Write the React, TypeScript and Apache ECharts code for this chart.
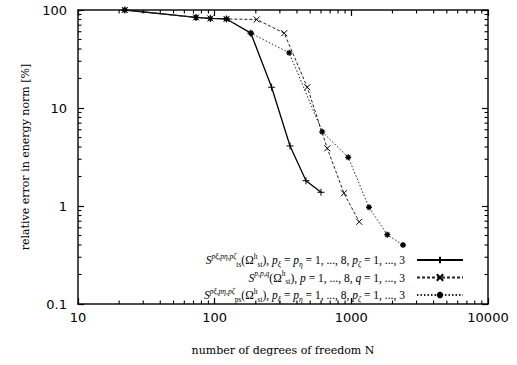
import React, { useEffect, useRef } from "react";
import * as echarts from "echarts";

// ---- data ----
const N_TS = [22, 73, 93, 122, 184, 261, 356, 466, 600];
const E_TS = [100, 84, 82, 81, 58, 16.3, 4.1, 1.81, 1.38];
const N_ST = [22, 73, 93, 122, 203, 323, 476, 667, 883, 1143];
const E_ST = [100, 84, 82, 81, 80, 58, 16.3, 3.88, 1.35, 0.69];
const N_PS = [22, 73, 93, 122, 184, 351, 612, 949, 1346, 1832, 2388];
const E_PS = [100, 84, 82, 81, 58, 36.6, 5.72, 3.14, 0.97, 0.51, 0.4];

const X_MIN = 10;
const X_MAX = 10000;
const Y_MIN = 0.1;
const Y_MAX = 100;
const X_DECADES = [10, 100, 1000];
const Y_DECADES = [0.1, 1, 10];
const MINOR_MULT = [2, 3, 4, 5, 6, 7, 8, 9];

const X_TITLE = "number of degrees of freedom N";
const Y_TITLE = "relative error in energy norm [%]";
const SERIES_NAMES = ["S_ts", "S_st", "S_ps"];

const SERIF = "DejaVu Serif";
const LSERIF = "Liberation Serif";
const SANS = "DejaVu Sans";

const LEGEND_TEXT: Record<string, string> = {
  S_ts:
    "{i|S}{sp|pξ,pη,pζ}{sbr|ts}{n|(Ω}{spr|h}{sbr|st}{n|), }{i|p}{sb|ξ}{n| = }{i|p}{sb|η}{n| = 1, ..., 8, }{i|p}{sb|ζ}{n| = 1, ..., 3}{g|}",
  S_st:
    "{i|S}{sp|p,p,q}{n|(Ω}{spr|h}{sbr|st}{n|), }{i|p}{n| = 1, ..., 8, }{i|q}{n| = 1, ..., 3}{g|}",
  S_ps:
    "{i|S}{sp|pξ,pη,pζ}{sbr|ps}{n|(Ω}{spr|h}{sbr|st}{n|), }{i|p}{sb|ξ}{n| = }{i|p}{sb|η}{n| = 1, ..., 8, }{i|p}{sb|ζ}{n| = 1, ..., 3}{g|}",
};

const pairs = (xs: number[], ys: number[]) => xs.map((x, i) => [x, ys[i]]);
const X_MINOR = X_DECADES.flatMap((d) => MINOR_MULT.map((m) => d * m));
const Y_MINOR = Y_DECADES.flatMap((d) => MINOR_MULT.map((m) => d * m));

const PLUS = "path://M0,5L10,5M5,0L5,10";
const CROSS = "path://M0,0L10,10M10,0L0,10";
const STAR = "path://M0,5L10,5M5,0L5,10M1.5,1.5L8.5,8.5M8.5,1.5L1.5,8.5";

export default function App() {
  const ref = useRef<HTMLDivElement>(null);
  useEffect(() => {
    if (!ref.current) return;
    const chart = echarts.init(ref.current, null, { renderer: "svg" });
    const small = 7.5;
    const rich = {
      n: { fontFamily: LSERIF, fontSize: 11.5, lineHeight: 16, color: "#000" },
      i: { fontFamily: LSERIF, fontSize: 11.5, lineHeight: 16, fontStyle: "italic", color: "#000" },
      sp: { fontFamily: LSERIF, fontSize: small, lineHeight: 8, verticalAlign: "top", fontStyle: "italic", color: "#000" },
      sb: { fontFamily: LSERIF, fontSize: small, lineHeight: 8, verticalAlign: "bottom", fontStyle: "italic", color: "#000" },
      spr: { fontFamily: LSERIF, fontSize: small, lineHeight: 8, verticalAlign: "top", color: "#000" },
      sbr: { fontFamily: LSERIF, fontSize: small, lineHeight: 8, verticalAlign: "bottom", color: "#000" },
      g: { width: 7, lineHeight: 16 },
    };
    const frame = { color: "#111", width: 1.5 };
    const tickStyle = { color: "#000", width: 1.2 };
    const labelFmt = (v: number) => String(Number(Number(v).toPrecision(4)));
    const minorLine = (x1: number, y1: number, x2: number, y2: number) => ({
      type: "line",
      shape: { x1, y1, x2, y2 },
      style: { stroke: "#000", lineWidth: 1.1 },
    });
    chart.setOption({
      animation: false,
      backgroundColor: "#fff",
      grid: { left: 78, right: 29, top: 10, bottom: 61 },
      xAxis: [
        {
          type: "log",
          min: X_MIN,
          max: X_MAX,
          name: X_TITLE,
          nameLocation: "middle",
          nameGap: 41,
          nameTextStyle: { fontFamily: SERIF, fontSize: 11, color: "#000" },
          axisLine: { show: true, lineStyle: frame },
          axisTick: { show: true, inside: true, length: 6, lineStyle: tickStyle },
          axisLabel: { fontFamily: SANS, fontSize: 13, color: "#000", margin: 7, formatter: labelFmt },
          splitLine: { show: false },
        },
        {
          type: "log",
          position: "top",
          min: X_MIN,
          max: X_MAX,
          axisLine: { show: true, lineStyle: frame },
          axisTick: { show: true, inside: true, length: 6, lineStyle: tickStyle },
          axisLabel: { show: false },
          splitLine: { show: false },
        },
      ],
      yAxis: [
        {
          type: "log",
          min: Y_MIN,
          max: Y_MAX,
          name: Y_TITLE,
          nameLocation: "middle",
          nameGap: 45,
          nameTextStyle: { fontFamily: SERIF, fontSize: 11, color: "#000" },
          axisLine: { show: true, lineStyle: frame },
          axisTick: { show: true, inside: true, length: 6, lineStyle: tickStyle },
          axisLabel: { fontFamily: SANS, fontSize: 13, color: "#000", margin: 11, formatter: labelFmt },
          splitLine: { show: false },
        },
        {
          type: "log",
          position: "right",
          min: Y_MIN,
          max: Y_MAX,
          axisLine: { show: true, lineStyle: frame },
          axisTick: { show: true, inside: true, length: 6, lineStyle: tickStyle },
          axisLabel: { show: false },
          splitLine: { show: false },
        },
      ],
      legend: {
        data: SERIES_NAMES,
        orient: "vertical",
        right: 53,
        top: 252,
        padding: 0,
        itemGap: 1.5,
        itemWidth: 46,
        itemHeight: 8,
        align: "right",
        formatter: (name: string) => LEGEND_TEXT[name] || name,
        textStyle: { fontFamily: LSERIF, fontSize: 11.5, color: "#000", rich },
      },
      series: [
        {
          name: "S_ts",
          type: "line",
          data: pairs(N_TS, E_TS),
          symbol: PLUS,
          symbolSize: 7,
          lineStyle: { color: "#000", width: 1.3, type: "solid" },
          itemStyle: { color: "#000", borderColor: "#000", borderWidth: 1 },
        },
        {
          name: "S_st",
          type: "line",
          data: pairs(N_ST, E_ST),
          symbol: CROSS,
          symbolSize: 6,
          lineStyle: { color: "#222", width: 1, type: [3, 2] },
          itemStyle: { color: "#000", borderColor: "#000", borderWidth: 1 },
        },
        {
          name: "S_ps",
          type: "line",
          data: pairs(N_PS, E_PS),
          symbol: STAR,
          symbolSize: 6,
          lineStyle: { color: "#222", width: 1, type: [1.5, 2] },
          itemStyle: { color: "#000", borderColor: "#000", borderWidth: 1.3 },
        },
        {
          name: "xminor",
          type: "custom",
          silent: true,
          z: 5,
          data: X_MINOR.map((v) => [v, 1]),
          renderItem: (_p: any, api: any) => {
            const v = api.value(0);
            const b = api.coord([v, Y_MIN]);
            const t = api.coord([v, Y_MAX]);
            return {
              type: "group",
              children: [minorLine(b[0], b[1], b[0], b[1] - 3.5), minorLine(t[0], t[1], t[0], t[1] + 3.5)],
            };
          },
        },
        {
          name: "yminor",
          type: "custom",
          silent: true,
          z: 5,
          data: Y_MINOR.map((v) => [100, v]),
          renderItem: (_p: any, api: any) => {
            const v = api.value(1);
            const l = api.coord([X_MIN, v]);
            const r = api.coord([X_MAX, v]);
            return {
              type: "group",
              children: [minorLine(l[0], l[1], l[0] + 3.5, l[1]), minorLine(r[0], r[1], r[0] - 3.5, r[1])],
            };
          },
        },
      ],
    });
    return () => chart.dispose();
  }, []);
  return (
    <div
      ref={ref}
      style={{ position: "absolute", left: 0, top: 0, width: 517, height: 365, background: "#fff" }}
    />
  );
}
